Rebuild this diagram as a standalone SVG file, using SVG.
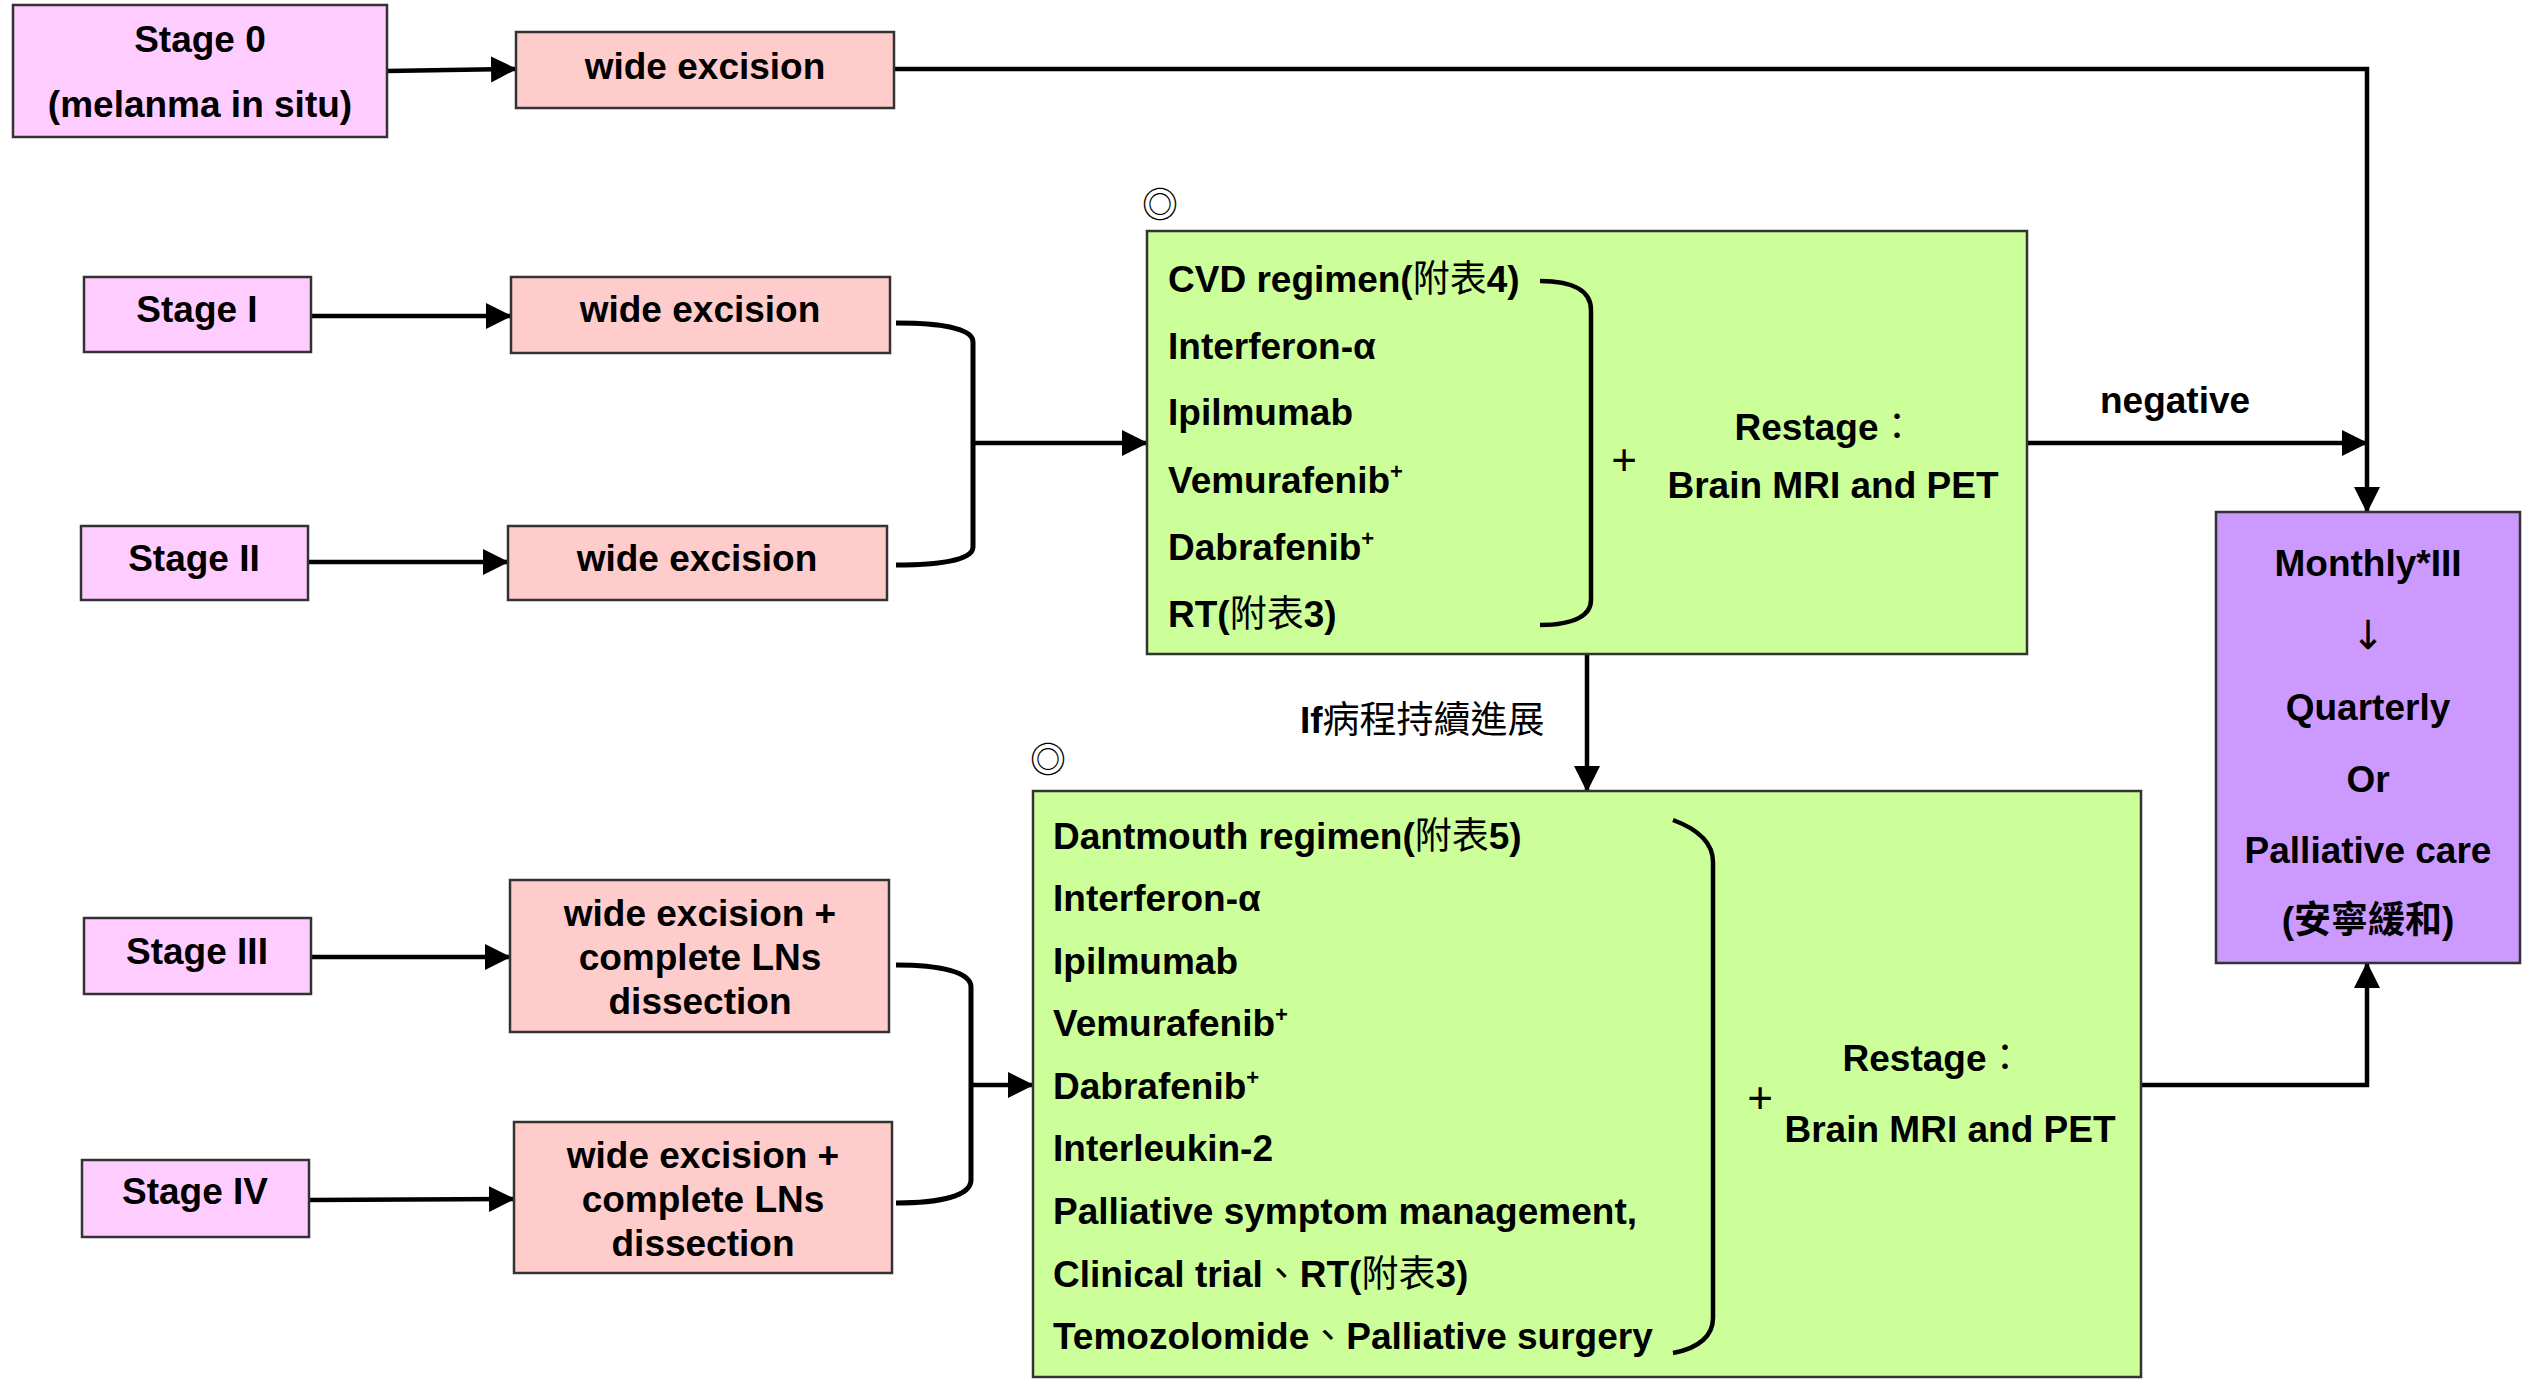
<svg xmlns="http://www.w3.org/2000/svg" width="2527" height="1381" viewBox="0 0 2527 1381">
<defs>
<style>
text{font-family:"Liberation Sans",Arial,"Noto Sans CJK TC","Noto Sans CJK SC",sans-serif;font-weight:bold;font-size:37px;fill:#000}
.c{text-anchor:middle}
.cjk{font-family:"Noto Sans CJK TC","Noto Sans CJK SC",sans-serif;font-weight:normal}
.stage{fill:#ffccff;stroke:#333;stroke-width:2.5}
.exc{fill:#ffcccc;stroke:#333;stroke-width:2.5}
.green{fill:#ccff99;stroke:#333;stroke-width:2.5}
.purple{fill:#cc99ff;stroke:#333;stroke-width:2.5}
.ln{fill:none;stroke:#000;stroke-width:4.5}
.br{fill:none;stroke:#000;stroke-width:5}
.plus{font-weight:normal;font-size:44px}
.sup{font-size:22px}
</style>
<marker id="ah" markerUnits="userSpaceOnUse" markerWidth="26" markerHeight="28" refX="25" refY="13" orient="auto">
<path d="M0,0 L26,13 L0,26 z" fill="#000"/>
</marker>
</defs>
<rect width="2527" height="1381" fill="#fff"/>

<g id="connectors">
<path class="ln" d="M387,71 L516,69" marker-end="url(#ah)"/>
<path class="ln" d="M894,69 L2367,69 L2367,512" marker-end="url(#ah)"/>
<path class="ln" d="M311,316 L511,316" marker-end="url(#ah)"/>
<path class="ln" d="M308,562 L508,562" marker-end="url(#ah)"/>
<path class="br" d="M896,323 C940,323 973,328 973,342 L973,547 C973,560 940,565 896,565"/>
<path class="ln" d="M973,443 L1147,443" marker-end="url(#ah)"/>
<path class="ln" d="M2027,443 L2367,443" marker-end="url(#ah)"/>
<path class="ln" d="M1587,654 L1587,791" marker-end="url(#ah)"/>
<path class="ln" d="M311,957 L510,957" marker-end="url(#ah)"/>
<path class="ln" d="M309,1200 L514,1199" marker-end="url(#ah)"/>
<path class="br" d="M896,965 C940,965 971,972 971,987 L971,1180 C971,1196 940,1203 896,1203"/>
<path class="ln" d="M971,1085 L1033,1085" marker-end="url(#ah)"/>
<path class="ln" d="M2141,1085 L2367,1085 L2367,963" marker-end="url(#ah)"/>
<text x="2100" y="413">negative</text>
<text x="1300" y="733">If<tspan class="cjk">病程持續進展</tspan></text>
</g>

<g id="stage0">
<rect class="stage" x="13" y="5" width="374" height="132"/>
<text class="c" x="200" y="52">Stage 0</text>
<text class="c" x="200" y="117">(melanma in situ)</text>
</g>
<g id="excision0">
<rect class="exc" x="516" y="32" width="378" height="76"/>
<text class="c" x="705" y="79">wide excision</text>
</g>

<g id="stage1">
<rect class="stage" x="84" y="277" width="227" height="75"/>
<text class="c" x="197" y="322">Stage I</text>
</g>
<g id="excision1">
<rect class="exc" x="511" y="277" width="379" height="76"/>
<text class="c" x="700" y="322">wide excision</text>
</g>

<g id="stage2">
<rect class="stage" x="81" y="526" width="227" height="74"/>
<text class="c" x="194" y="571">Stage II</text>
</g>
<g id="excision2">
<rect class="exc" x="508" y="526" width="379" height="74"/>
<text class="c" x="697" y="571">wide excision</text>
</g>

<g id="treatment1">
<text class="cjk c" x="1160" y="202" dominant-baseline="central" style="font-size:36px">◎</text>
<rect class="green" x="1147" y="231" width="880" height="423"/>
<text x="1168" y="292">CVD regimen(<tspan class="cjk">附表</tspan>4)</text>
<text x="1168" y="359">Interferon-α</text>
<text x="1168" y="425">Ipilmumab</text>
<text x="1168" y="493">Vemurafenib<tspan class="sup" dy="-14">+</tspan></text>
<text x="1168" y="560">Dabrafenib<tspan class="sup" dy="-14">+</tspan></text>
<text x="1168" y="627">RT(<tspan class="cjk">附表</tspan>3)</text>
<path class="ln" d="M1540,281 C1575,281 1591,292 1591,310 L1591,600 C1591,615 1575,625 1540,625"/>
<text class="c plus" x="1624" y="475">+</text>
<text class="c" x="1825" y="440">Restage<tspan class="cjk">：</tspan></text>
<text class="c" x="1833" y="498">Brain MRI and PET</text>
</g>

<g id="monthly">
<rect class="purple" x="2216" y="512" width="304" height="451"/>
<text class="c" x="2368" y="576">Monthly*III</text>
<text class="c" x="2368" y="649" style="font-family:'DejaVu Sans',sans-serif;font-weight:normal;font-size:40px">↓</text>
<text class="c" x="2368" y="720">Quarterly</text>
<text class="c" x="2368" y="792">Or</text>
<text class="c" x="2368" y="863">Palliative care</text>
<text class="c" x="2368" y="933">(<tspan class="cjk" style="font-weight:bold">安寧緩和</tspan>)</text>
</g>

<g id="stage3">
<rect class="stage" x="84" y="918" width="227" height="76"/>
<text class="c" x="197" y="964">Stage III</text>
</g>
<g id="excision3">
<rect class="exc" x="510" y="880" width="379" height="152"/>
<text class="c" x="700" y="926">wide excision +</text>
<text class="c" x="700" y="970">complete LNs</text>
<text class="c" x="700" y="1014">dissection</text>
</g>

<g id="stage4">
<rect class="stage" x="82" y="1160" width="227" height="77"/>
<text class="c" x="195" y="1204">Stage IV</text>
</g>
<g id="excision4">
<rect class="exc" x="514" y="1122" width="378" height="151"/>
<text class="c" x="703" y="1168">wide excision +</text>
<text class="c" x="703" y="1212">complete LNs</text>
<text class="c" x="703" y="1256">dissection</text>
</g>

<g id="treatment2">
<text class="cjk c" x="1048" y="757" dominant-baseline="central" style="font-size:36px">◎</text>
<rect class="green" x="1033" y="791" width="1108" height="586"/>
<text x="1053" y="849">Dantmouth regimen(<tspan class="cjk">附表</tspan>5)</text>
<text x="1053" y="911">Interferon-α</text>
<text x="1053" y="974">Ipilmumab</text>
<text x="1053" y="1036">Vemurafenib<tspan class="sup" dy="-14">+</tspan></text>
<text x="1053" y="1099">Dabrafenib<tspan class="sup" dy="-14">+</tspan></text>
<text x="1053" y="1161">Interleukin-2</text>
<text x="1053" y="1224">Palliative symptom management,</text>
<text x="1053" y="1287">Clinical trial<tspan class="cjk">、</tspan>RT(<tspan class="cjk">附表</tspan>3)</text>
<text x="1053" y="1349">Temozolomide<tspan class="cjk">、</tspan>Palliative surgery</text>
<path class="ln" d="M1673,820 C1700,830 1713,845 1713,862 L1713,1318 C1713,1335 1700,1348 1673,1353"/>
<text class="c plus" x="1760" y="1113">+</text>
<text class="c" x="1933" y="1071">Restage<tspan class="cjk">：</tspan></text>
<text class="c" x="1950" y="1142">Brain MRI and PET</text>
</g>
</svg>
